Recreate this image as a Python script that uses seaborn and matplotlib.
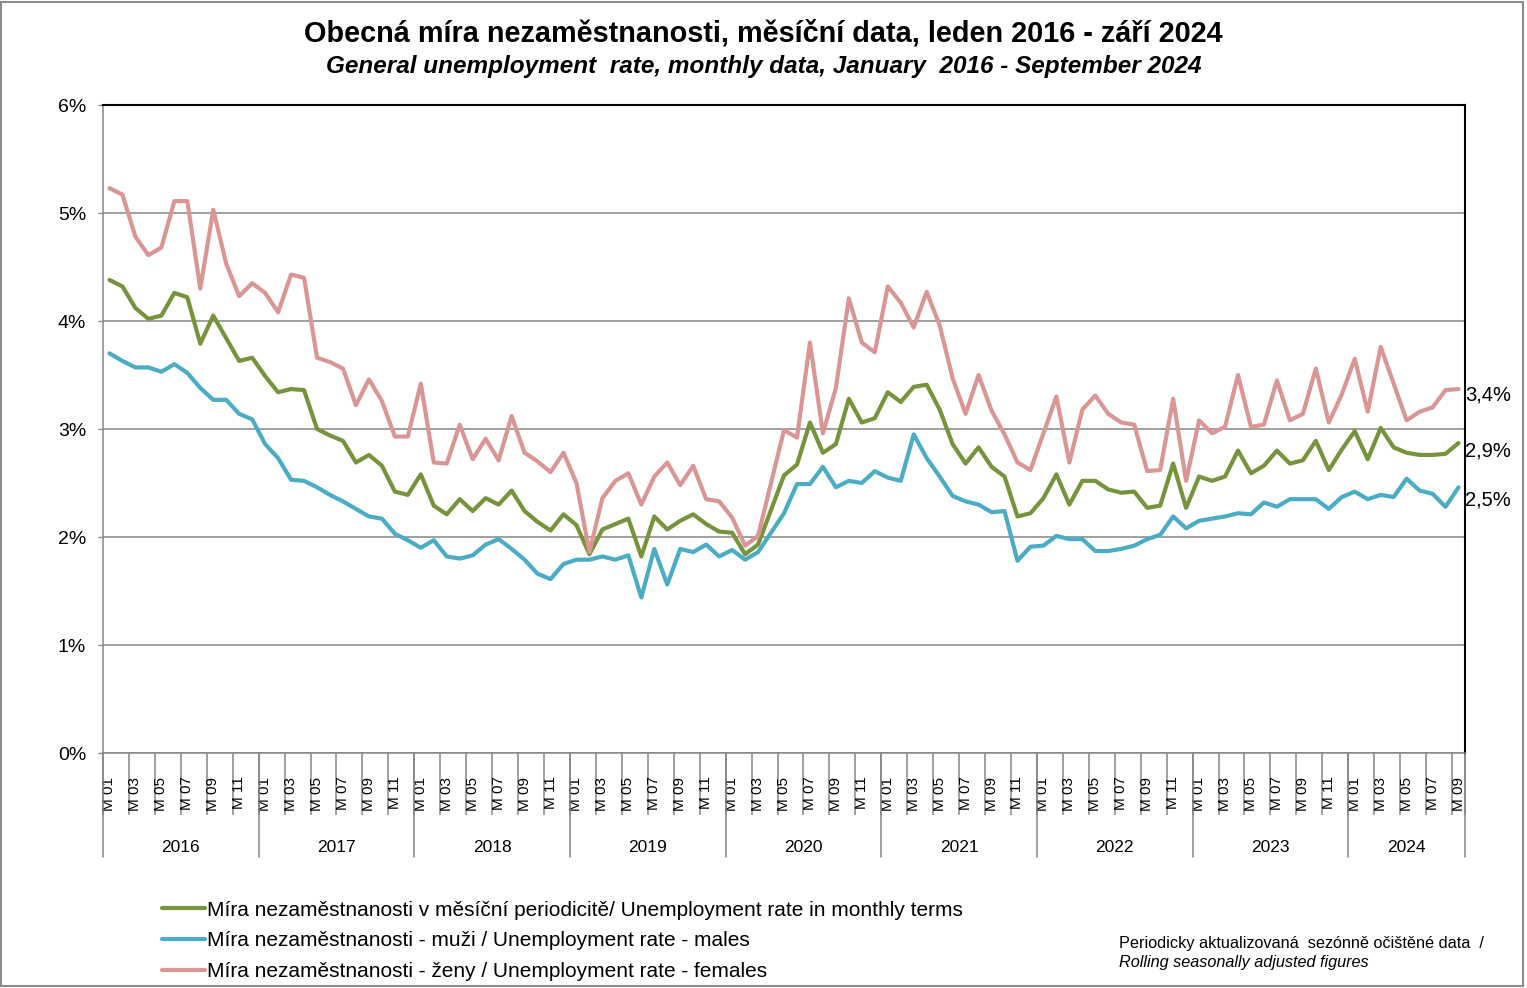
import numpy as np
import pandas as pd
import matplotlib
matplotlib.use("Agg")
import matplotlib.pyplot as plt
import seaborn as sns
from matplotlib.lines import Line2D
from matplotlib.patches import Rectangle

# ---------------- data ----------------
years = ["2016", "2017", "2018", "2019", "2020", "2021", "2022", "2023", "2024"]
months = ["M 01", "M 02", "M 03", "M 04", "M 05", "M 06",
          "M 07", "M 08", "M 09", "M 10", "M 11", "M 12"]
months_in_last_year = 9

total = [
    4.38, 4.32, 4.12, 4.02, 4.05, 4.26, 4.22, 3.79, 4.05, 3.84, 3.63, 3.66,
    3.49, 3.34, 3.37, 3.36, 3.00, 2.94, 2.89, 2.69, 2.76, 2.66, 2.42, 2.39,
    2.58, 2.29, 2.21, 2.35, 2.24, 2.36, 2.30, 2.43, 2.24, 2.14, 2.06, 2.21,
    2.11, 1.84, 2.07, 2.12, 2.17, 1.82, 2.19, 2.07, 2.15, 2.21, 2.12, 2.05,
    2.04, 1.84, 1.93, 2.25, 2.57, 2.67, 3.06, 2.78, 2.86, 3.28, 3.06, 3.10,
    3.34, 3.25, 3.39, 3.41, 3.18, 2.86, 2.68, 2.83, 2.65, 2.56, 2.19, 2.22,
    2.36, 2.58, 2.30, 2.52, 2.52, 2.44, 2.41, 2.42, 2.27, 2.29, 2.68, 2.27,
    2.56, 2.52, 2.56, 2.80, 2.59, 2.66, 2.80, 2.68, 2.71, 2.89, 2.62, 2.81,
    2.98, 2.72, 3.01, 2.83, 2.78, 2.76, 2.76, 2.77, 2.87,
]
males = [
    3.70, 3.63, 3.57, 3.57, 3.53, 3.60, 3.52, 3.38, 3.27, 3.27, 3.14, 3.09,
    2.86, 2.73, 2.53, 2.52, 2.46, 2.39, 2.33, 2.26, 2.19, 2.17, 2.03, 1.97,
    1.90, 1.97, 1.82, 1.80, 1.83, 1.93, 1.98, 1.89, 1.79, 1.66, 1.61, 1.75,
    1.79, 1.79, 1.82, 1.79, 1.83, 1.44, 1.89, 1.56, 1.89, 1.86, 1.93, 1.82,
    1.88, 1.79, 1.86, 2.04, 2.22, 2.49, 2.49, 2.65, 2.46, 2.52, 2.50, 2.61,
    2.55, 2.52, 2.95, 2.73, 2.56, 2.38, 2.33, 2.30, 2.23, 2.24, 1.78, 1.91,
    1.92, 2.01, 1.98, 1.98, 1.87, 1.87, 1.89, 1.92, 1.98, 2.02, 2.19, 2.08,
    2.15, 2.17, 2.19, 2.22, 2.21, 2.32, 2.28, 2.35, 2.35, 2.35, 2.26, 2.37,
    2.42, 2.35, 2.39, 2.37, 2.54, 2.43, 2.40, 2.28, 2.46,
]
females = [
    5.23, 5.17, 4.78, 4.61, 4.68, 5.11, 5.11, 4.30, 5.03, 4.53, 4.23, 4.35,
    4.26, 4.08, 4.43, 4.40, 3.66, 3.62, 3.56, 3.22, 3.46, 3.26, 2.93, 2.93,
    3.42, 2.69, 2.68, 3.04, 2.72, 2.91, 2.71, 3.12, 2.78, 2.70, 2.60, 2.78,
    2.50, 1.86, 2.36, 2.52, 2.59, 2.30, 2.56, 2.69, 2.48, 2.66, 2.35, 2.33,
    2.18, 1.92, 2.01, 2.50, 2.99, 2.92, 3.80, 2.96, 3.38, 4.21, 3.80, 3.71,
    4.32, 4.17, 3.94, 4.27, 3.96, 3.47, 3.14, 3.50, 3.17, 2.95, 2.69, 2.62,
    2.96, 3.30, 2.69, 3.18, 3.31, 3.14, 3.06, 3.04, 2.61, 2.62, 3.28, 2.52,
    3.08, 2.96, 3.02, 3.50, 3.02, 3.04, 3.45, 3.08, 3.14, 3.56, 3.06, 3.32,
    3.65, 3.16, 3.76, 3.42, 3.08, 3.16, 3.20, 3.36, 3.37,
]

series_names = [
    "Míra nezaměstnanosti v měsíční periodicitě/ Unemployment rate in monthly terms",
    "Míra nezaměstnanosti - muži / Unemployment rate - males",
    "Míra nezaměstnanosti - ženy / Unemployment rate - females",
]
series_colors = ["#77933C", "#4BACC6", "#D99694"]
y_ticks = [0, 1, 2, 3, 4, 5, 6]

title = "Obecná míra nezaměstnanosti, měsíční data, leden 2016 - září 2024"
subtitle = "General unemployment  rate, monthly data, January  2016 - September 2024"
note1 = "Periodicky aktualizovaná  sezónně očištěné data  /"
note2 = "Rolling seasonally adjusted figures"

# ---------------- style ----------------
sns.set_theme(style="white")
plt.rcParams['font.family'] = ['Liberation Sans', 'DejaVu Sans']
plt.rcParams['text.color'] = 'black'
plt.rcParams['axes.labelcolor'] = 'black'
plt.rcParams['xtick.labelcolor'] = 'black'
plt.rcParams['ytick.labelcolor'] = 'black'
GRAY = "#868686"

n = len(total)
period_labels = [m for y in years for m in months][:n]
df = pd.DataFrame({
    "pos": np.tile(np.arange(n), 3),
    "value": total + males + females,
    "series": np.repeat(series_names, n),
})

W, H = 1527, 988
fig = plt.figure(figsize=(W / 100, H / 100), dpi=100)
ax = fig.add_axes([103 / W, (H - 753) / H, (1465 - 103) / W, (753 - 105) / H])

sns.lineplot(data=df, x="pos", y="value", hue="series", hue_order=series_names,
             palette=dict(zip(series_names, series_colors)), linewidth=3.0,
             ax=ax, legend=False, sort=False)

ax.set_xlim(-0.5, n - 0.5)
ax.set_ylim(0, 6)
ax.set_xlabel("")
ax.set_ylabel("")

# y axis
ax.set_yticks(y_ticks)
ax.set_yticklabels([f"{v}%" for v in y_ticks])
ax.yaxis.grid(True, color=GRAY, linewidth=1.1)
ax.xaxis.grid(False)
ax.tick_params(axis="y", which="major", left=True, length=3.6, width=1.0,
               color=GRAY, labelsize=14, pad=8.5, labelcolor="black")

# x axis: separators every 2 months, labels at odd months
major_pos = list(np.arange(-0.5, n - 0.5, 2)) + [n - 0.5]
ax.set_xticks(major_pos)
ax.set_xticklabels([""] * len(major_pos))
ax.tick_params(axis="x", which="major", bottom=True, length=44.5, width=1.1,
               color=GRAY, direction="out")
label_pos = np.arange(0, n, 2)
ax.set_xticks(label_pos, minor=True)
ax.set_xticklabels([period_labels[p] for p in label_pos], minor=True,
                   rotation=90, fontsize=11)
ax.tick_params(axis="x", which="minor", bottom=True, length=0, pad=17,
               labelcolor="black")
for lab in ax.get_xticklabels(minor=True):
    lab.set_verticalalignment("top")

# year separators and year labels
xform = ax.get_xaxis_transform()
sep_depth = -(857 - 753) / (753 - 105)
year_y = -(847 - 753) / (753 - 105)
for k, yr in enumerate(years):
    start = 12 * k
    count = 12 if k < len(years) - 1 else months_in_last_year
    ax.plot([start - 0.5, start - 0.5], [0, sep_depth], transform=xform,
            color=GRAY, lw=1.1, clip_on=False)
    ax.text(start + (count - 1) / 2, year_y, yr, transform=xform,
            ha="center", va="center", fontsize=12.5)
ax.plot([n - 0.5, n - 0.5], [0, sep_depth], transform=xform,
        color=GRAY, lw=1.1, clip_on=False)

# spines
for side in ["left", "bottom"]:
    ax.spines[side].set_color(GRAY)
    ax.spines[side].set_linewidth(1.1)
for side in ["top", "right"]:
    ax.spines[side].set_color("black")
    ax.spines[side].set_linewidth(1.5)

# end labels
offsets = [(5, -6), (5, -9), (5, -4.5)]
for vals, off in zip([total, males, females], offsets):
    v = vals[-1]
    ax.annotate(f"{v:.1f}%".replace(".", ","), xy=(n - 1, v), xytext=off,
                textcoords="offset points", ha="left", va="center",
                fontsize=14.5, annotation_clip=False)

# titles
fig.text(0.5, 1 - 34 / H, title, ha="center", va="center",
         fontsize=20.8, fontweight="bold")
fig.text(0.5, 1 - 66 / H, subtitle, ha="center", va="center",
         fontsize=17.5, fontweight="bold", fontstyle="italic")

# legend
handles = [Line2D([0], [0], color=c, lw=3.0) for c in series_colors]
ax.legend(handles, series_names, loc="upper left",
          bbox_to_anchor=(162 / W, (H - 900.5) / H), bbox_transform=fig.transFigure,
          frameon=False, fontsize=15, handlelength=2.07, handletextpad=0.1,
          labelspacing=0.56, borderpad=0, borderaxespad=0)

# note
fig.text(1119 / W, 1 - 943 / H, note1, ha="left", va="center", fontsize=11.7)
fig.text(1119 / W, 1 - 962 / H, note2, ha="left", va="center", fontsize=11.7,
         fontstyle="italic")

# figure border
fig.patches.append(Rectangle((1 / W, 2 / H), (1523 - 1) / W, (H - 4) / H,
                             transform=fig.transFigure, fill=False,
                             edgecolor="#8c8c8c", linewidth=1.5))

fig.savefig("out.png", dpi=100)
